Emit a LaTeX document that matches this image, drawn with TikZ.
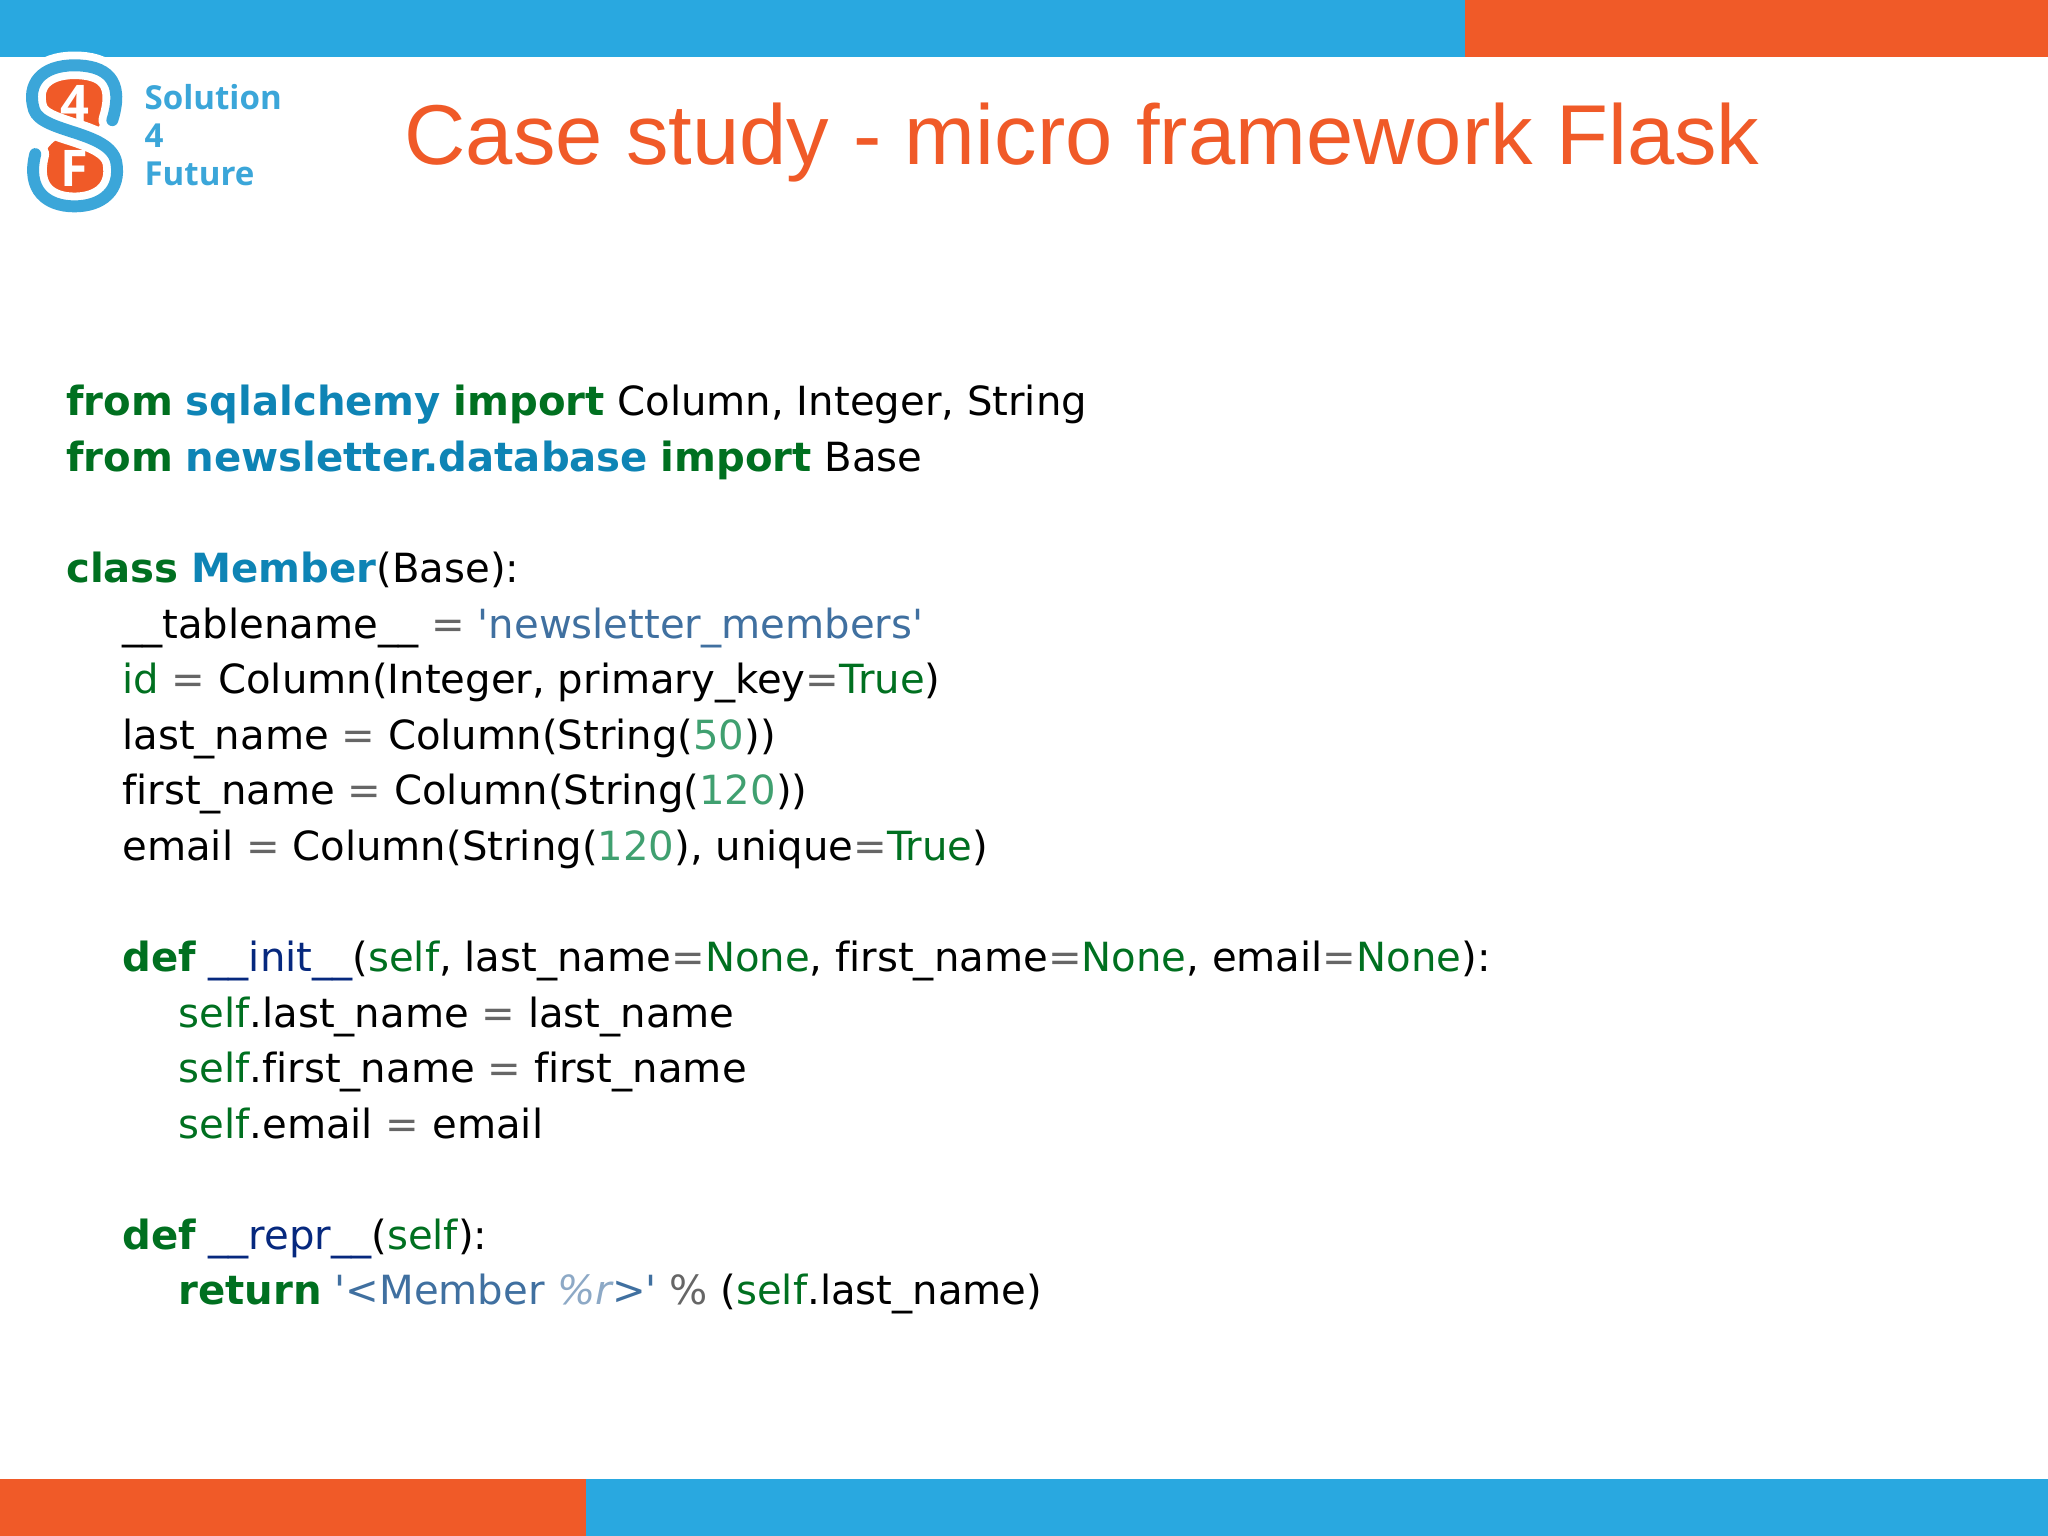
\documentclass[tikz,border=0pt]{standalone}
\usepackage{fontspec}
\setmainfont{DejaVu Sans}[Ligatures={NoCommon}]
\newfontfamily\titlefont{Liberation Sans}
\newfontfamily\logofont{Open Sans}
\definecolor{sblue}{HTML}{29A8E0}
\definecolor{sorange}{HTML}{F05A28}
\definecolor{kwg}{HTML}{007020}
\definecolor{modb}{HTML}{0E84B5}
\definecolor{strb}{HTML}{4070A0}
\definecolor{numg}{HTML}{40A070}
\definecolor{funb}{HTML}{06287E}
\definecolor{opg}{HTML}{666666}
\definecolor{logob}{HTML}{3BA6D9}
\newcommand\kw[1]{\textcolor{kwg}{\bfseries #1}}
\newcommand\md[1]{\textcolor{modb}{\bfseries #1}}
\newcommand\st[1]{\textcolor{strb}{#1}}
\newcommand\nm[1]{\textcolor{numg}{#1}}
\newcommand\sg[1]{\textcolor{kwg}{#1}}
\newcommand\fn[1]{\textcolor{funb}{#1}}
\newcommand\op[1]{\textcolor{opg}{#1}}
\newcommand\q{\textquotesingle}
\tikzset{code/.style={anchor=base west,inner sep=0pt,font=\fontsize{8.75}{10}\selectfont},
 logotext/.style={logob,anchor=base west,inner sep=0pt,font=\logofont\bfseries\fontsize{7.2}{8}\selectfont},
 logoletter/.style={white,font=\logofont\bfseries\fontsize{11}{12}\selectfont},
 spath/.style={line cap=round}}
\begin{document}
\begin{tikzpicture}[x=0.01cm,y=-0.01cm]
\useasboundingbox (0,0) rectangle (1568,1176);
\fill[white] (0,0) rectangle (1568,1176);
\fill[sblue] (0,0) rectangle (1122,44);
\fill[sorange] (1122,0) rectangle (1568,44);
\fill[sorange] (0,1132) rectangle (449,1176);
\fill[sblue] (449,1132) rectangle (1568,1176);
% logo
\fill[sorange] (57,80) circle (25);
\fill[sorange] (57,128) circle (25);
\fill[sorange] (40,98) .. controls (50,104) and (50,104) .. (40,110) -- (74,110) .. controls (64,104) and (64,104) .. (74,98) -- cycle;
\path[spath,draw=white,line width=6pt] (86,92) .. controls (96,60) and (80,50) .. (57,50)
  .. controls (32,50) and (20,64) .. (26,84) .. controls (32,102) and (84,100) .. (89,124)
  .. controls (93,146) and (78,158) .. (57,158) .. controls (36,158) and (20,146) .. (27,118);
\draw[spath,logob,line width=2.6pt] (86,92) .. controls (96,60) and (80,50) .. (57,50)
  .. controls (32,50) and (20,64) .. (26,84) .. controls (32,102) and (84,100) .. (89,124)
  .. controls (93,146) and (78,158) .. (57,158) .. controls (36,158) and (20,146) .. (27,118);
\node[logoletter] (l4) at (57,79) {4};
\node[logoletter] (lF) at (57,129) {F};
\node[logotext] (s1) at (110,84) {Solution};
\node[logotext] (s2) at (110,113) {4};
\node[logotext] (s3) at (110,142) {Future};
\node[sorange,anchor=base west,inner sep=0pt,font=\titlefont\fontsize{18.5}{22}\selectfont] (title) at (309,126) {Case study - micro framework Flask};
% code
\node[code] (c1) at (50,318) {\kw{from} \md{sqlalchemy} \kw{import} Column, Integer, String};
\node[code] (c2) at (50,361) {\kw{from} \md{newsletter.database} \kw{import} Base};
\node[code] (c3) at (50,446) {\kw{class} \md{Member}(Base):};
\node[code] (c4) at (93,489) {\_\_tablename\_\_ \op{=} \st{\q newsletter\_members\q}};
\node[code] (c5) at (93,531) {\sg{id} \op{=} Column(Integer, primary\_key\op{=}\sg{True})};
\node[code] (c6) at (93,574) {last\_name \op{=} Column(String(\nm{50}))};
\node[code] (c7) at (93,616) {first\_name \op{=} Column(String(\nm{120}))};
\node[code] (c8) at (93,659) {email \op{=} Column(String(\nm{120}), unique\op{=}\sg{True})};
\node[code] (c9) at (93,744) {\kw{def} \fn{\_\_init\_\_}(\sg{self}, last\_name\op{=}\sg{None}, first\_name\op{=}\sg{None}, email\op{=}\sg{None}):};
\node[code] (c10) at (136,787) {\sg{self}.last\_name \op{=} last\_name};
\node[code] (c11) at (136,829) {\sg{self}.first\_name \op{=} first\_name};
\node[code] (c12) at (136,872) {\sg{self}.email \op{=} email};
\node[code] (c13) at (93,957) {\kw{def} \fn{\_\_repr\_\_}(\sg{self}):};
\node[code] (c14) at (136,999) {\kw{return} \st{\q<Member \textcolor{strb!60}{\itshape\%r}>\q} \op{\%} (\sg{self}.last\_name)};
\end{tikzpicture}
\end{document}
